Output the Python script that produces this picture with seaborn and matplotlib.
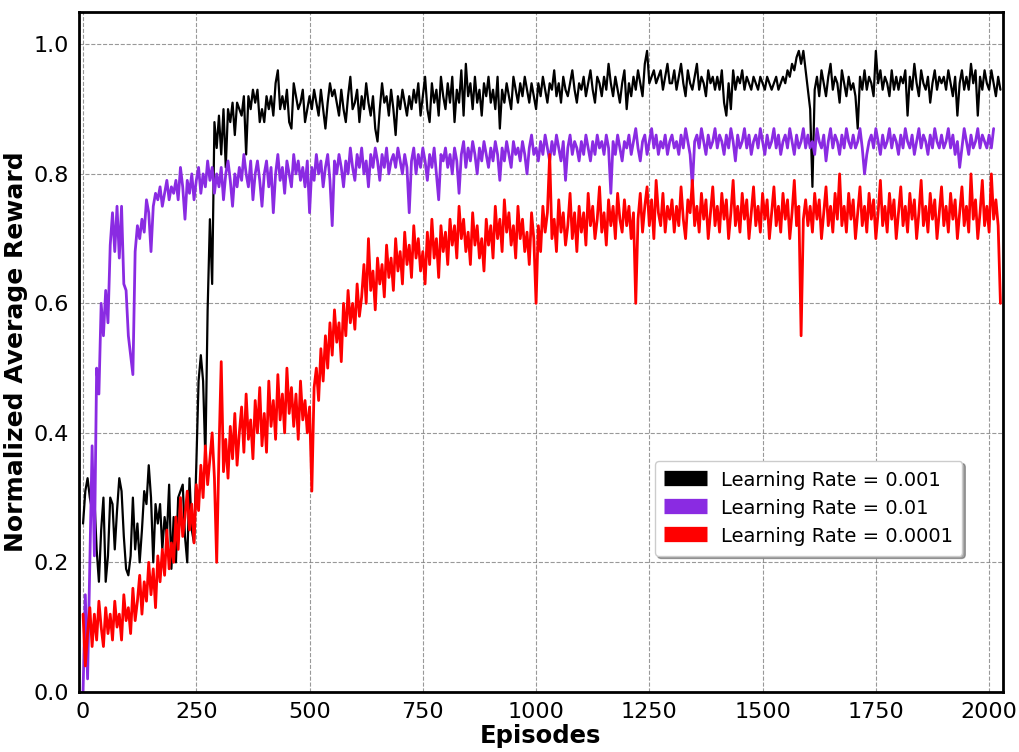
import numpy as np
import pandas as pd
import matplotlib
matplotlib.use("Agg")
import matplotlib.pyplot as plt
import seaborn as sns

# Episode spacing of the logged rewards
STEP = 5

series_labels = ["Learning Rate = 0.001", "Learning Rate = 0.01", "Learning Rate = 0.0001"]
series_colors = ["#000000", "#8A2BE2", "#FF0000"]
series_widths = [1.6, 2.0, 2.0]

# Normalized average reward, one value every 5 episodes
reward_lr_001 = [
    0.26, 0.31, 0.33, 0.30, 0.28, 0.30, 0.22, 0.17, 0.25, 0.30, 0.17, 0.21, 0.30, 0.29, 0.22, 0.28, 0.33, 0.31, 0.24, 0.19,
    0.18, 0.21, 0.30, 0.22, 0.26, 0.20, 0.25, 0.31, 0.29, 0.35, 0.30, 0.20, 0.29, 0.26, 0.29, 0.22, 0.27, 0.24, 0.32, 0.19,
    0.27, 0.20, 0.30, 0.31, 0.32, 0.24, 0.20, 0.33, 0.25, 0.23, 0.35, 0.48, 0.52, 0.48, 0.36, 0.59, 0.73, 0.63, 0.88, 0.84,
    0.89, 0.83, 0.90, 0.81, 0.90, 0.88, 0.91, 0.86, 0.91, 0.90, 0.89, 0.92, 0.83, 0.92, 0.90, 0.93, 0.91, 0.93, 0.88, 0.90,
    0.88, 0.92, 0.90, 0.92, 0.89, 0.94, 0.96, 0.90, 0.92, 0.90, 0.93, 0.88, 0.87, 0.94, 0.92, 0.90, 0.91, 0.93, 0.88, 0.90,
    0.92, 0.90, 0.93, 0.91, 0.89, 0.93, 0.90, 0.87, 0.91, 0.94, 0.92, 0.93, 0.91, 0.89, 0.93, 0.90, 0.88, 0.92, 0.95, 0.90,
    0.91, 0.93, 0.88, 0.92, 0.90, 0.94, 0.91, 0.89, 0.92, 0.87, 0.85, 0.90, 0.94, 0.91, 0.92, 0.89, 0.93, 0.90, 0.86, 0.92,
    0.90, 0.93, 0.91, 0.89, 0.92, 0.90, 0.93, 0.91, 0.94, 0.89, 0.92, 0.95, 0.90, 0.88, 0.94, 0.91, 0.93, 0.89, 0.95, 0.92,
    0.90, 0.94, 0.91, 0.95, 0.88, 0.93, 0.91, 0.96, 0.89, 0.97, 0.92, 0.94, 0.90, 0.95, 0.91, 0.93, 0.89, 0.94, 0.92, 0.95,
    0.91, 0.93, 0.90, 0.95, 0.87, 0.93, 0.91, 0.94, 0.92, 0.90, 0.95, 0.93, 0.91, 0.94, 0.92, 0.95, 0.93, 0.91, 0.94, 0.92,
    0.90, 0.94, 0.92, 0.95, 0.93, 0.91, 0.94, 0.93, 0.96, 0.92, 0.94, 0.91, 0.95, 0.93, 0.92, 0.94, 0.96, 0.93, 0.91, 0.94,
    0.93, 0.95, 0.92, 0.94, 0.96, 0.93, 0.91, 0.95, 0.94, 0.92, 0.95, 0.93, 0.97, 0.94, 0.92, 0.95, 0.93, 0.91, 0.94, 0.96,
    0.90, 0.94, 0.92, 0.95, 0.93, 0.96, 0.94, 0.92, 0.97, 0.99, 0.94, 0.95, 0.96, 0.94, 0.95, 0.96, 0.93, 0.95, 0.97, 0.94,
    0.94, 0.96, 0.93, 0.95, 0.97, 0.94, 0.92, 0.96, 0.94, 0.93, 0.95, 0.97, 0.93, 0.95, 0.94, 0.92, 0.96, 0.94, 0.95, 0.93,
    0.95, 0.93, 0.96, 0.91, 0.89, 0.94, 0.90, 0.96, 0.93, 0.95, 0.94, 0.96, 0.93, 0.95, 0.94, 0.93, 0.95, 0.94, 0.93, 0.95,
    0.94, 0.93, 0.95, 0.94, 0.93, 0.94, 0.95, 0.93, 0.94, 0.95, 0.94, 0.96, 0.95, 0.97, 0.96, 0.98, 0.99, 0.97, 0.99, 0.96,
    0.93, 0.90, 0.78, 0.93, 0.95, 0.92, 0.96, 0.94, 0.92, 0.95, 0.97, 0.93, 0.95, 0.94, 0.91, 0.96, 0.94, 0.92, 0.95, 0.93,
    0.94, 0.92, 0.87, 0.95, 0.93, 0.96, 0.93, 0.95, 0.94, 0.92, 0.99, 0.94, 0.96, 0.93, 0.95, 0.94, 0.92, 0.96, 0.93, 0.95,
    0.93, 0.95, 0.94, 0.96, 0.89, 0.95, 0.93, 0.97, 0.94, 0.92, 0.96, 0.94, 0.93, 0.95, 0.91, 0.94, 0.96, 0.93, 0.95, 0.94,
    0.95, 0.93, 0.96, 0.94, 0.92, 0.95, 0.89, 0.94, 0.96, 0.93, 0.95, 0.93, 0.97, 0.94, 0.96, 0.89, 0.95, 0.93, 0.96, 0.94,
    0.93, 0.96, 0.94, 0.92, 0.95, 0.93,
]

reward_lr_01 = [
    0.00, 0.15, 0.02, 0.20, 0.38, 0.21, 0.50, 0.46, 0.60, 0.55, 0.62, 0.57, 0.69, 0.74, 0.68, 0.75, 0.67, 0.75, 0.63, 0.62,
    0.55, 0.52, 0.49, 0.68, 0.72, 0.70, 0.73, 0.71, 0.76, 0.74, 0.68, 0.75, 0.77, 0.76, 0.78, 0.75, 0.77, 0.79, 0.76, 0.78,
    0.77, 0.79, 0.76, 0.81, 0.78, 0.73, 0.79, 0.77, 0.80, 0.76, 0.79, 0.81, 0.77, 0.80, 0.78, 0.82, 0.79, 0.81, 0.77, 0.80,
    0.78, 0.81, 0.76, 0.80, 0.82, 0.79, 0.75, 0.80, 0.78, 0.81, 0.79, 0.83, 0.80, 0.78, 0.82, 0.76, 0.80, 0.82, 0.79, 0.75,
    0.80, 0.82, 0.78, 0.81, 0.74, 0.80, 0.83, 0.79, 0.81, 0.77, 0.82, 0.80, 0.78, 0.83, 0.80, 0.82, 0.79, 0.81, 0.78, 0.82,
    0.74, 0.81, 0.79, 0.83, 0.80, 0.82, 0.78, 0.81, 0.83, 0.79, 0.72, 0.82, 0.80, 0.83, 0.81, 0.78, 0.82, 0.80, 0.84, 0.81,
    0.79, 0.83, 0.81, 0.84, 0.80, 0.82, 0.78, 0.83, 0.81, 0.84, 0.82, 0.79, 0.83, 0.81, 0.84, 0.80, 0.82, 0.83, 0.81, 0.84,
    0.82, 0.80, 0.83, 0.81, 0.74, 0.82, 0.84, 0.80, 0.83, 0.81, 0.84, 0.82, 0.79, 0.83, 0.81, 0.84, 0.80, 0.76, 0.83, 0.82,
    0.84, 0.81, 0.83, 0.80, 0.84, 0.82, 0.77, 0.83, 0.85, 0.81, 0.84, 0.82, 0.85, 0.83, 0.80, 0.84, 0.82, 0.85, 0.83, 0.81,
    0.84, 0.82, 0.85, 0.83, 0.79, 0.84, 0.82, 0.85, 0.83, 0.81, 0.85, 0.83, 0.84, 0.82, 0.85, 0.83, 0.80, 0.84, 0.86, 0.83,
    0.84, 0.82, 0.85, 0.83, 0.86, 0.84, 0.82, 0.85, 0.83, 0.86, 0.84, 0.82, 0.85, 0.79, 0.84, 0.86, 0.83, 0.85, 0.84, 0.82,
    0.85, 0.83, 0.86, 0.84, 0.82, 0.85, 0.83, 0.86, 0.84, 0.85, 0.83, 0.86, 0.84, 0.77, 0.85, 0.83, 0.86, 0.84, 0.82, 0.85,
    0.84, 0.86, 0.83, 0.85, 0.87, 0.84, 0.82, 0.85, 0.86, 0.83, 0.85, 0.87, 0.84, 0.86, 0.83, 0.85, 0.84, 0.86, 0.83, 0.85,
    0.86, 0.84, 0.85, 0.83, 0.86, 0.84, 0.87, 0.85, 0.83, 0.78, 0.85, 0.86, 0.84, 0.87, 0.85, 0.83, 0.86, 0.84, 0.85, 0.87,
    0.84, 0.86, 0.85, 0.83, 0.86, 0.84, 0.87, 0.85, 0.82, 0.86, 0.84, 0.85, 0.87, 0.84, 0.86, 0.83, 0.85, 0.86, 0.84, 0.87,
    0.85, 0.83, 0.86, 0.84, 0.85, 0.87, 0.84, 0.86, 0.83, 0.85, 0.86, 0.84, 0.87, 0.85, 0.83, 0.86, 0.84, 0.85, 0.87, 0.84,
    0.86, 0.84, 0.85, 0.83, 0.87, 0.85, 0.84, 0.86, 0.82, 0.85, 0.87, 0.84, 0.86, 0.85, 0.83, 0.86, 0.84, 0.87, 0.85, 0.84,
    0.86, 0.84, 0.85, 0.87, 0.84, 0.80, 0.83, 0.85, 0.86, 0.84, 0.87, 0.85, 0.83, 0.86, 0.84, 0.85, 0.87, 0.84, 0.86, 0.85,
    0.83, 0.86, 0.84, 0.87, 0.85, 0.84, 0.86, 0.83, 0.85, 0.87, 0.84, 0.86, 0.85, 0.83, 0.86, 0.84, 0.87, 0.85, 0.84, 0.86,
    0.84, 0.85, 0.87, 0.84, 0.86, 0.83, 0.85, 0.81, 0.84, 0.87, 0.85, 0.83, 0.86, 0.84, 0.85, 0.87, 0.84, 0.86, 0.85, 0.84,
    0.86, 0.84, 0.87,
]

reward_lr_0001 = [
    0.12, 0.04, 0.09, 0.13, 0.07, 0.12, 0.08, 0.14, 0.10, 0.07, 0.13, 0.09, 0.12, 0.08, 0.14, 0.10, 0.12, 0.08, 0.15, 0.11,
    0.13, 0.09, 0.16, 0.11, 0.14, 0.18, 0.12, 0.17, 0.14, 0.20, 0.15, 0.19, 0.13, 0.21, 0.17, 0.22, 0.18, 0.25, 0.19, 0.23,
    0.20, 0.27, 0.22, 0.30, 0.24, 0.27, 0.31, 0.25, 0.29, 0.23, 0.32, 0.28, 0.35, 0.30, 0.38, 0.32, 0.36, 0.40, 0.33, 0.20,
    0.37, 0.51, 0.34, 0.39, 0.33, 0.41, 0.36, 0.43, 0.35, 0.40, 0.44, 0.37, 0.46, 0.39, 0.42, 0.36, 0.45, 0.40, 0.47, 0.38,
    0.43, 0.37, 0.48, 0.41, 0.45, 0.39, 0.49, 0.42, 0.46, 0.40, 0.50, 0.43, 0.47, 0.41, 0.46, 0.39, 0.48, 0.42, 0.45, 0.40,
    0.44, 0.31, 0.47, 0.50, 0.45, 0.53, 0.48, 0.55, 0.50, 0.57, 0.52, 0.59, 0.54, 0.57, 0.51, 0.60, 0.55, 0.62, 0.57, 0.60,
    0.56, 0.63, 0.58, 0.61, 0.66, 0.60, 0.70, 0.62, 0.65, 0.59, 0.67, 0.63, 0.66, 0.61, 0.69, 0.64, 0.67, 0.62, 0.70, 0.65,
    0.68, 0.63, 0.71, 0.66, 0.69, 0.64, 0.72, 0.67, 0.70, 0.65, 0.68, 0.63, 0.71, 0.66, 0.73, 0.67, 0.70, 0.64, 0.72, 0.68,
    0.71, 0.66, 0.73, 0.69, 0.72, 0.67, 0.75, 0.70, 0.73, 0.68, 0.71, 0.66, 0.74, 0.69, 0.72, 0.67, 0.70, 0.65, 0.73, 0.69,
    0.72, 0.67, 0.75, 0.70, 0.73, 0.68, 0.76, 0.71, 0.74, 0.69, 0.72, 0.67, 0.75, 0.70, 0.73, 0.68, 0.71, 0.66, 0.74, 0.70,
    0.60, 0.72, 0.68, 0.75, 0.71, 0.74, 0.83, 0.70, 0.73, 0.68, 0.76, 0.71, 0.74, 0.69, 0.72, 0.77, 0.70, 0.74, 0.68, 0.75,
    0.71, 0.74, 0.69, 0.77, 0.72, 0.75, 0.70, 0.73, 0.78, 0.71, 0.74, 0.69, 0.76, 0.72, 0.75, 0.70, 0.77, 0.73, 0.71, 0.76,
    0.72, 0.75, 0.70, 0.74, 0.60, 0.73, 0.77, 0.71, 0.75, 0.78, 0.72, 0.76, 0.70, 0.79, 0.74, 0.72, 0.77, 0.71, 0.75, 0.73,
    0.76, 0.71, 0.75, 0.72, 0.78, 0.73, 0.70, 0.76, 0.74, 0.79, 0.72, 0.75, 0.71, 0.77, 0.73, 0.76, 0.70, 0.74, 0.78, 0.72,
    0.75, 0.71, 0.77, 0.73, 0.76, 0.70, 0.74, 0.79, 0.72, 0.75, 0.71, 0.77, 0.73, 0.76, 0.70, 0.74, 0.78, 0.72, 0.75, 0.71,
    0.77, 0.73, 0.76, 0.70, 0.74, 0.78, 0.72, 0.75, 0.71, 0.77, 0.73, 0.76, 0.70, 0.74, 0.79, 0.72, 0.75, 0.55, 0.73, 0.76,
    0.72, 0.75, 0.71, 0.77, 0.73, 0.76, 0.70, 0.74, 0.78, 0.72, 0.75, 0.71, 0.77, 0.73, 0.80, 0.72, 0.75, 0.71, 0.77, 0.73,
    0.76, 0.70, 0.74, 0.78, 0.72, 0.75, 0.71, 0.77, 0.73, 0.76, 0.70, 0.74, 0.79, 0.72, 0.75, 0.71, 0.77, 0.73, 0.76, 0.70,
    0.74, 0.78, 0.72, 0.75, 0.71, 0.77, 0.73, 0.76, 0.70, 0.74, 0.79, 0.72, 0.75, 0.71, 0.77, 0.73, 0.76, 0.70, 0.74, 0.78,
    0.72, 0.75, 0.71, 0.77, 0.73, 0.76, 0.70, 0.74, 0.78, 0.72, 0.75, 0.71, 0.80, 0.73, 0.76, 0.70, 0.74, 0.79, 0.72, 0.75,
    0.71, 0.80, 0.73, 0.76, 0.72, 0.60,
]

x_ticks = [0, 250, 500, 750, 1000, 1250, 1500, 1750, 2000]
y_ticks = [0.0, 0.2, 0.4, 0.6, 0.8, 1.0]

frames = []
for label, values in zip(series_labels, [reward_lr_001, reward_lr_01, reward_lr_0001]):
    frames.append(pd.DataFrame({
        "Episodes": np.arange(len(values)) * STEP,
        "Reward": values,
        "Series": label,
    }))
df = pd.concat(frames, ignore_index=True)

sns.set_theme(style="white")
plt.rcParams["font.family"] = ["DejaVu Sans"]
plt.rcParams["text.color"] = "black"
plt.rcParams["axes.labelcolor"] = "black"

fig = plt.figure(figsize=(10.19, 7.52), dpi=100)
ax = fig.add_axes([0.0775, 0.080, 0.9065, 0.904])

sns.lineplot(
    data=df, x="Episodes", y="Reward", hue="Series",
    hue_order=series_labels, palette=dict(zip(series_labels, series_colors)),
    estimator=None, linewidth=1.6, ax=ax, legend=True,
)
for line, w in zip(ax.get_lines()[:3], series_widths):
    line.set_linewidth(w)

ax.set_xlim(-9, 2030)
ax.set_ylim(0.0, 1.05)
ax.set_xticks(x_ticks)
ax.set_yticks(y_ticks)
ax.set_xticklabels([str(t) for t in x_ticks])
ax.set_yticklabels([f"{t:.1f}" for t in y_ticks])
ax.tick_params(axis="both", labelsize=16, direction="out", length=4, width=1.2, colors="black")

ax.grid(True, linestyle="--", color="gray", linewidth=0.8, alpha=0.8)
for side in ax.spines.values():
    side.set_color("black")
    side.set_linewidth(2)

ax.set_xlabel("Episodes", fontsize=17.5, fontweight="bold", labelpad=1, color="black")
ax.set_ylabel("Normalized Average Reward", fontsize=18, fontweight="bold", labelpad=4, color="black")

leg = ax.legend(
    loc="lower right", bbox_to_anchor=(0.967, 0.186), fontsize=14, labelcolor="black",
    frameon=True, shadow=True, fancybox=True, handlelength=2.2, handleheight=1.0,
    handletextpad=0.7, borderpad=0.5, labelspacing=0.45,
)
for h in leg.get_lines():
    h.set_linewidth(11)
    h.set_solid_capstyle("butt")
leg.get_frame().set_edgecolor("#cccccc")

fig.savefig("out.png", dpi=100)
